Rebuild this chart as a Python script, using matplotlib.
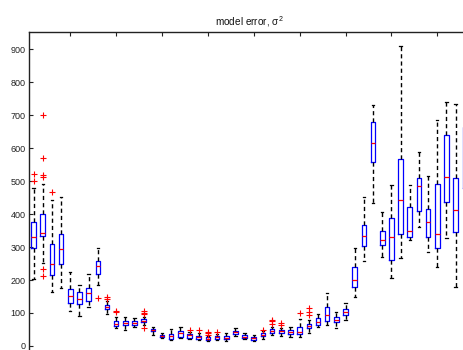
import matplotlib
matplotlib.use("Agg")
import matplotlib.pyplot as plt

plt.rcParams['font.family'] = ['Liberation Sans', 'DejaVu Sans']
plt.rcParams['mathtext.fontset'] = 'custom'
plt.rcParams['mathtext.rm'] = 'Liberation Sans'
plt.rcParams['mathtext.it'] = 'Liberation Sans'

# Per-group box statistics of the model error
whislo = [203, 252, 163, 177, 106, 92, 117, 185, 97, 54, 48, 56, 63, 33, 23, 18,
          23, 20, 18, 15, 17, 16, 30, 20, 15, 22, 33, 30, 26, 28, 39, 57,
          64, 54, 79, 148, 258, 433, 271, 205, 266, 322, 362, 284, 239, 327, 180, 300]
q1 = [298, 334, 215, 250, 130, 127, 137, 218, 111, 61, 63, 64, 72, 44, 26, 22,
      28, 23, 20, 18, 20, 20, 37, 23, 18, 29, 40, 40, 37, 37, 53, 64,
      76, 72, 93, 180, 304, 558, 307, 260, 340, 332, 410, 332, 297, 438, 345, 479]
med = [331, 342, 248, 294, 153, 143, 160, 244, 118, 66, 69, 71, 77, 48, 29, 29,
       38, 32, 27, 22, 26, 25, 41, 28, 23, 32, 45, 44, 42, 41, 59, 72,
       93, 79, 102, 199, 334, 617, 321, 331, 442, 348, 484, 376, 340, 514, 413, 519]
q3 = [377, 400, 309, 339, 173, 163, 175, 259, 124, 77, 76, 75, 81, 52, 33, 36,
      45, 36, 31, 27, 30, 31, 46, 33, 27, 40, 50, 49, 47, 58, 67, 84,
      117, 87, 111, 239, 367, 681, 349, 388, 567, 423, 509, 416, 492, 641, 509, 666]
whishi = [479, 491, 443, 451, 225, 185, 218, 297, 135, 88, 89, 84, 88, 58, 38, 50,
          57, 42, 38, 30, 37, 38, 53, 40, 33, 45, 58, 55, 57, 82, 79, 97,
          160, 104, 130, 297, 453, 732, 406, 487, 909, 489, 590, 517, 685, 741, 733, 750]
outliers = [[501, 522], [213, 234, 512, 518, 569, 701], [468], [], [], [], [], [147],
            [143, 149], [102, 105], [], [], [55, 96, 101, 106], [], [], [],
            [], [48], [47], [34, 38, 42], [43], [], [], [],
            [], [48], [66, 75, 79], [65, 71], [], [99], [94, 104, 114], [],
            [], [], [], [], [], [], [], [],
            [], [], [], [], [], [], [], []]

yticks = [0, 100, 200, 300, 400, 500, 600, 700, 800, 900]
xticks = [5, 10, 15, 20, 25, 30, 35, 40, 45]

stats = []
for i in range(len(med)):
    stats.append(dict(whislo=whislo[i], q1=q1[i], med=med[i], q3=q3[i],
                      whishi=whishi[i], fliers=outliers[i]))

fig = plt.figure(figsize=(4.63, 3.5), dpi=100)
ax = fig.add_axes([0.0626, -0.0166, 0.9512, 0.9243])

positions = list(range(1, len(med) + 1))
ax.bxp(stats, positions=positions, widths=0.5, capwidths=0.25,
       boxprops=dict(color=(0, 0, 1), linewidth=0.9),
       medianprops=dict(color=(1, 0, 0), linewidth=0.9),
       whiskerprops=dict(color='black', linewidth=1.0, linestyle=(0, (3, 2.2))),
       capprops=dict(color='black', linewidth=0.9),
       flierprops=dict(marker='+', markeredgecolor=(1, 0, 0), markersize=4.5,
                       markeredgewidth=0.8, linestyle='none'),
       manage_ticks=False)

ax.set_xlim(0.5, len(med) + 0.5)
ax.set_ylim(-30, 952)
ax.set_yticks(yticks)
ax.set_yticklabels([str(v) for v in yticks])
ax.set_xticks(xticks)
ax.set_xticklabels([])

ax.tick_params(axis='both', direction='in', length=3, width=0.8, color='#222222',
               labelsize=6.5, labelcolor='#222222', pad=2.5,
               top=True, right=True, bottom=True, left=True)
for sp in ax.spines.values():
    sp.set_linewidth(1.0)
    sp.set_color('#222222')

ax.set_title(r'model error, $\sigma^2$', fontsize=7.2, pad=5, color='#111111')

fig.savefig('out.png', dpi=100)
